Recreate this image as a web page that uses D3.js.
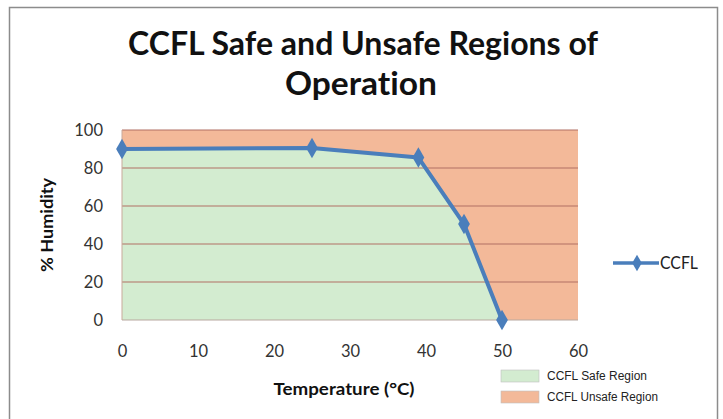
<!DOCTYPE html>
<meta charset="utf-8">
<style>
body { margin: 0; background: #fff; }
svg { display: block; }
text { font-family: Lato, "Open Sans", sans-serif; font-variant-ligatures: none; }
.tick text { font-size: 16.5px; fill: #333; font-family: Lato, "Open Sans", sans-serif; }
.legend-small text { font-family: "Liberation Sans", Arial, sans-serif; font-size: 12.5px; fill: #222; }
</style>
<svg width="723" height="419"></svg>
<script src="https://d3js.org/d3.v7.min.js"></script>
<script>

// CCFL curve: temperature (°C) vs max % humidity
const temps = [0, 25, 39, 45, 50];
const humidity = [90, 90.5, 85.5, 50.5, 0];
const xTicks = [0, 10, 20, 30, 40, 50, 60];
const yTicks = [0, 20, 40, 60, 80, 100];
const legendItems = ["CCFL Safe Region", "CCFL Unsafe Region"];

const svg = d3.select("svg");

var margin = {left: 122, right: 145, top: 130, bottom: 99};
var width = 723 - margin.left - margin.right,
  height = 419 - margin.top - margin.bottom;

// chart frame
svg.append("rect")
  .attr("x", 9.5).attr("y", 7.5)
  .attr("width", 708).attr("height", 420)
  .attr("fill", "none")
  .attr("stroke", "#8c8c8c")
  .attr("stroke-width", 1.5);

svg.append("text")
  .attr("x", 363).attr("y", 55)
  .attr("text-anchor", "middle")
  .attr("font-size", "32px")
  .attr("font-weight", "bold")
  .attr("textLength", 470)
  .attr("lengthAdjust", "spacingAndGlyphs")
  .attr("fill", "#111")
  .text("CCFL Safe and Unsafe Regions of");

svg.append("text")
  .attr("x", 361).attr("y", 95)
  .attr("text-anchor", "middle")
  .attr("font-size", "32px")
  .attr("font-weight", "bold")
  .attr("textLength", 152)
  .attr("lengthAdjust", "spacingAndGlyphs")
  .attr("fill", "#111")
  .text("Operation");

var x = d3.scaleLinear().domain([0, 60]).range([0, width]);
var y = d3.scaleLinear().domain([0, 100]).range([height, 0]);

var g = svg.append("g")
  .attr("transform", "translate(" + margin.left + "," + margin.top + ")");

var points = temps.map(function(t, i) { return {t: t, h: humidity[i]}; });

// unsafe region = whole plot, safe region = area under the curve
g.append("rect")
  .attr("x", 0).attr("y", y(100))
  .attr("width", x(60)).attr("height", y(0) - y(100))
  .attr("fill", "#f3b999");

g.append("path")
  .datum(points)
  .attr("fill", "#d3ecd0")
  .attr("d", d3.area()
    .x(function(d) { return x(d.t); })
    .y0(y(0))
    .y1(function(d) { return y(d.h); }));

// gridlines
g.append("g")
  .selectAll("line")
  .data(yTicks.filter(function(d) { return d > 0; }))
  .enter().append("line")
    .attr("x1", 0).attr("x2", width)
    .attr("y1", function(d) { return y(d); })
    .attr("y2", function(d) { return y(d); })
    .attr("stroke", "#b27064")
    .attr("stroke-width", 1.2);

// axes lines
g.append("line")
  .attr("x1", 0).attr("x2", width)
  .attr("y1", height).attr("y2", height)
  .attr("stroke", "#b8a89f");
g.append("line")
  .attr("x1", 0).attr("x2", 0)
  .attr("y1", 0).attr("y2", height)
  .attr("stroke", "#c9a99a");

var xAxis = g.append("g")
  .attr("transform", "translate(0," + height + ")")
  .call(d3.axisBottom(x).tickValues(xTicks).tickSize(0).tickPadding(25));
xAxis.select(".domain").remove();

var yAxis = g.append("g")
  .call(d3.axisLeft(y).tickValues(yTicks).tickSize(0).tickPadding(19));
yAxis.select(".domain").remove();
yAxis.selectAll("text").attr("dy", "0.35em");

// series line
g.append("path")
  .datum(points)
  .attr("fill", "none")
  .attr("stroke", "#4a7ebb")
  .attr("stroke-width", 4)
  .attr("stroke-linejoin", "round")
  .attr("d", d3.line()
    .x(function(d) { return x(d.t); })
    .y(function(d) { return y(d.h); }));

var diamond = d3.symbol().type(d3.symbolDiamond).size(120);
g.selectAll(".pt")
  .data(points)
  .enter().append("path")
    .attr("class", "pt")
    .attr("transform", function(d) { return "translate(" + x(d.t) + "," + y(d.h) + ")"; })
    .attr("d", diamond)
    .attr("fill", "#4a7ebb");

// axis titles
svg.append("text")
  .attr("transform", "translate(53,225) rotate(-90)")
  .attr("text-anchor", "middle")
  .attr("font-size", "17px")
  .attr("font-weight", "bold")
  .attr("textLength", 94)
  .attr("lengthAdjust", "spacingAndGlyphs")
  .attr("fill", "#111")
  .text("% Humidity");

svg.append("text")
  .attr("x", 344).attr("y", 395)
  .attr("text-anchor", "middle")
  .attr("font-size", "17.5px")
  .attr("font-weight", "bold")
  .attr("textLength", 141)
  .attr("lengthAdjust", "spacingAndGlyphs")
  .attr("fill", "#111")
  .text("Temperature (°C)");

// series legend
var lg = svg.append("g").attr("transform", "translate(613,263)");
lg.append("line")
  .attr("x1", 0).attr("x2", 46)
  .attr("stroke", "#4a7ebb").attr("stroke-width", 3.5);
lg.append("path")
  .attr("transform", "translate(24,0)")
  .attr("d", d3.symbol().type(d3.symbolDiamond).size(80))
  .attr("fill", "#4a7ebb");
lg.append("text")
  .attr("x", 47).attr("dy", "0.35em")
  .attr("font-size", "16.5px")
  .attr("textLength", 38)
  .attr("lengthAdjust", "spacingAndGlyphs")
  .attr("fill", "#222")
  .text("CCFL");

// region legend
var fills = ["#d3ecd0", "#f3b999"];
var rl = svg.append("g").attr("class", "legend-small")
  .attr("transform", "translate(501,370)");
var item = rl.selectAll("g")
  .data(legendItems)
  .enter().append("g")
    .attr("transform", function(d, i) { return "translate(0," + (i * 21) + ")"; });
item.append("rect")
  .attr("width", 38).attr("height", 12)
  .attr("fill", function(d, i) { return fills[i]; })
  .attr("stroke", "#c0c0c0")
  .attr("stroke-width", 0.6);
item.append("text")
  .attr("x", 46).attr("y", 6).attr("dy", "0.35em")
  .attr("textLength", function(d, i) { return i === 0 ? 100 : 111; })
  .attr("lengthAdjust", "spacingAndGlyphs")
  .text(function(d) { return d; });

</script>
